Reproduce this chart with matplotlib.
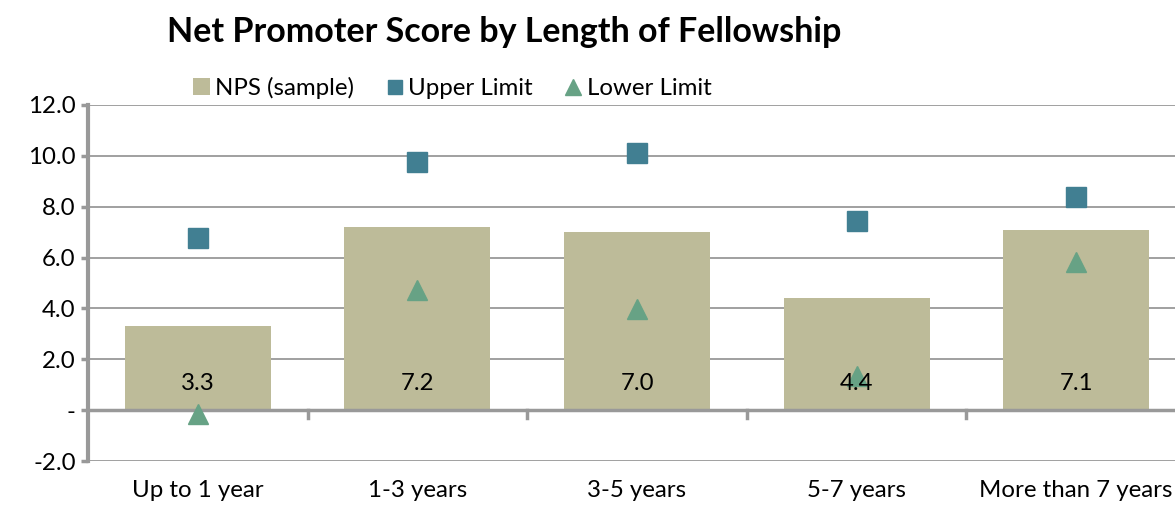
import matplotlib
matplotlib.use("Agg")
import matplotlib.pyplot as plt
import numpy as np

categories = ["Up to 1 year", "1-3 years", "3-5 years", "5-7 years", "More than 7 years"]
nps = [3.3, 7.2, 7.0, 4.4, 7.1]
upper = [6.78, 9.76, 10.1, 7.44, 8.38]
lower = [-0.16, 4.72, 3.97, 1.34, 5.83]
yticks = [-2, 0, 2, 4, 6, 8, 10, 12]
ytick_labels = ["-2.0", "-", "2.0", "4.0", "6.0", "8.0", "10.0", "12.0"]

plt.rcParams['font.family'] = ['Lato', 'DejaVu Sans']

fig = plt.figure(figsize=(11.75, 5.07), dpi=100)
ax = fig.add_axes([0.0749, 0.0907, 0.9345, 0.7023])

x = np.arange(len(categories))
bar_c = "#BDBB99"
up_c = "#417F92"
lo_c = "#67A285"
grid_c = "#999999"
fs = 17.3

for yv in yticks:
    if yv != 0:
        ax.axhline(yv, color=grid_c, lw=1.3, zorder=0)

ax.bar(x, nps, width=0.665, color=bar_c, zorder=2, label="NPS (sample)")
ax.axhline(0, color=grid_c, lw=2.5, zorder=3)
ax.plot(x, upper, ls="none", marker="s", ms=14, color=up_c, zorder=4, label="Upper Limit")
ax.plot(x, lower, ls="none", marker="^", ms=15, color=lo_c, zorder=4, label="Lower Limit")

for xi, v in zip(x, nps):
    ax.text(xi, 1.05, f"{v:.1f}", ha="center", va="center", fontsize=fs, zorder=5)

for b in np.arange(0.5, len(categories) - 0.5, 1.0):
    ax.plot([b, b], [0, -0.32], color=grid_c, lw=2.5, zorder=3, clip_on=False)

ax.set_xlim(-0.5, 4.5)
ax.set_ylim(-2, 12)
ax.set_yticks(yticks)
ax.set_yticklabels(ytick_labels, fontsize=fs)
ax.set_xticks(x)
ax.set_xticklabels(categories, fontsize=fs)
ax.tick_params(axis="x", length=0, pad=14)
ax.tick_params(axis="y", length=5, width=2.5, color=grid_c, pad=4)
for s in ["top", "right", "bottom"]:
    ax.spines[s].set_visible(False)
ax.spines["left"].set_color(grid_c)
ax.spines["left"].set_linewidth(3)

fig.text(0.429, 0.937, "Net Promoter Score by Length of Fellowship", ha="center", va="center",
         fontsize=24.5, fontweight="bold")

h, l = ax.get_legend_handles_labels()
order = [l.index("NPS (sample)"), l.index("Upper Limit"), l.index("Lower Limit")]
fig.legend([h[i] for i in order], [l[i] for i in order], loc="center",
           bbox_to_anchor=(0.385, 0.826), ncol=3, frameon=False,
           fontsize=fs, handlelength=0.7, handletextpad=0.2, columnspacing=1.35,
           markerscale=0.75)

fig.savefig("out.png", dpi=100)
